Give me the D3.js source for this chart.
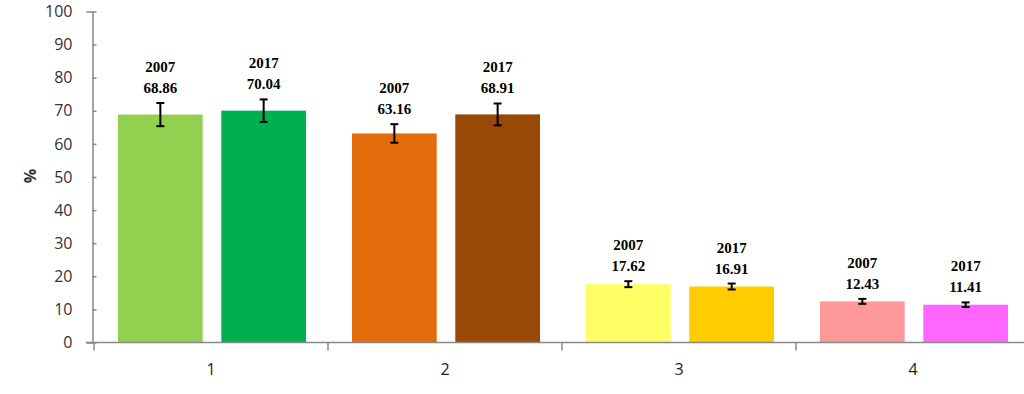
<!DOCTYPE html>
<html>
<head>
<meta charset="utf-8">
<script src="https://cdn.jsdelivr.net/npm/d3@7"></script>
<style>
  body { margin: 0; background: #fff; }
</style>
</head>
<body>
<svg id="chart" width="1024" height="394"></svg>
<script>
// values
const categories = ["1", "2", "3", "4"];
const years = ["2007", "2017"];
const values2007 = [68.86, 63.16, 17.62, 12.43];
const values2017 = [70.04, 68.91, 16.91, 11.41];
const errors2007 = [3.5, 2.8, 0.9, 0.75];
const errors2017 = [3.4, 3.3, 0.9, 0.7];
const yTicks = [0, 10, 20, 30, 40, 50, 60, 70, 80, 90, 100];
const barColors = [
    ["#92D050", "#00B050"],
    ["#E46C0A", "#984807"],
    ["#FFFF66", "#FFCC00"],
    ["#FF9999", "#FF66FF"]
];

const svg = d3.select("#chart");
const axisX = 92.5, axisY = 342.5;

const y = d3.scaleLinear().domain([0, 100]).range([axisY, 11.5]);
const x0 = d3.scaleBand().domain(categories).range([94, 1030]);
const x1 = d3.scaleBand().domain(years).range([24, 212]).paddingInner(0.18);

// flat list of bars
const bars = [];
categories.forEach((c, i) => {
    bars.push({cat: c, year: years[0], value: values2007[i], err: errors2007[i], color: barColors[i][0]});
    bars.push({cat: c, year: years[1], value: values2017[i], err: errors2017[i], color: barColors[i][1]});
});

const barX = d => x0(d.cat) + x1(d.year);
const barMid = d => barX(d) + x1.bandwidth() / 2;

svg.append("g").selectAll("rect")
    .data(bars)
    .enter()
    .append("rect")
    .attr("x", barX)
    .attr("y", d => y(d.value))
    .attr("width", x1.bandwidth())
    .attr("height", d => axisY - y(d.value))
    .attr("fill", d => d.color);

// y axis
const yAxis = svg.append("g")
    .attr("transform", `translate(${axisX},0)`)
    .call(d3.axisLeft(y).tickValues(yTicks).tickSize(6).tickPadding(14));
yAxis.select(".domain").attr("stroke", "#888").attr("stroke-width", 1.5);
yAxis.selectAll(".tick line").attr("stroke", "#888").attr("stroke-width", 1.5).attr("x2", 4);
yAxis.selectAll(".tick text")
    .attr("fill", "#333")
    .style("font-family", "'Open Sans', sans-serif")
    .style("font-size", "16px");

// x axis
const xAxis = svg.append("g").attr("transform", `translate(0,${axisY})`);
xAxis.append("line")
    .attr("x1", 86).attr("x2", 1024)
    .attr("stroke", "#888").attr("stroke-width", 1.5);
xAxis.selectAll(".xtick")
    .data(categories)
    .enter()
    .append("line")
    .attr("class", "xtick")
    .attr("x1", d => x0(d)).attr("x2", d => x0(d))
    .attr("y1", 0).attr("y2", 8)
    .attr("stroke", "#888").attr("stroke-width", 1.5);
xAxis.selectAll(".xlabel")
    .data(categories)
    .enter()
    .append("text")
    .attr("class", "xlabel")
    .attr("x", d => x0(d) + x0.bandwidth() / 2)
    .attr("y", 32)
    .attr("text-anchor", "middle")
    .attr("fill", "#222")
    .style("font-family", "'Open Sans', sans-serif")
    .style("font-size", "16px")
    .text(d => d);

// y title
svg.append("text")
    .attr("transform", `translate(36,176) rotate(-90)`)
    .attr("text-anchor", "middle")
    .attr("fill", "#333")
    .style("font-family", "'Open Sans', sans-serif")
    .style("font-weight", "bold")
    .style("font-size", "16px")
    .text("%");

// error bars
const errs = svg.append("g").selectAll("g")
    .data(bars)
    .enter()
    .append("g")
    .attr("stroke", "#000")
    .attr("stroke-width", 2);
errs.append("line")
    .attr("x1", barMid).attr("x2", barMid)
    .attr("y1", d => y(d.value + d.err)).attr("y2", d => y(d.value - d.err));
errs.append("line")
    .attr("x1", d => barMid(d) - 4).attr("x2", d => barMid(d) + 4)
    .attr("y1", d => y(d.value + d.err)).attr("y2", d => y(d.value + d.err));
errs.append("line")
    .attr("x1", d => barMid(d) - 4).attr("x2", d => barMid(d) + 4)
    .attr("y1", d => y(d.value - d.err)).attr("y2", d => y(d.value - d.err));

// labels: year over value
const labels = svg.append("g").selectAll("g")
    .data(bars)
    .enter()
    .append("g")
    .attr("text-anchor", "middle")
    .attr("fill", "#000")
    .style("font-family", "'Liberation Serif', 'Times New Roman', serif")
    .style("font-weight", "bold")
    .style("font-size", "15px");
labels.append("text")
    .attr("x", barMid)
    .attr("y", d => y(d.value + d.err) - 10)
    .text(d => d.value.toFixed(2));
labels.append("text")
    .attr("x", barMid)
    .attr("y", d => y(d.value + d.err) - 31)
    .text(d => d.year);
</script>
</body>
</html>
